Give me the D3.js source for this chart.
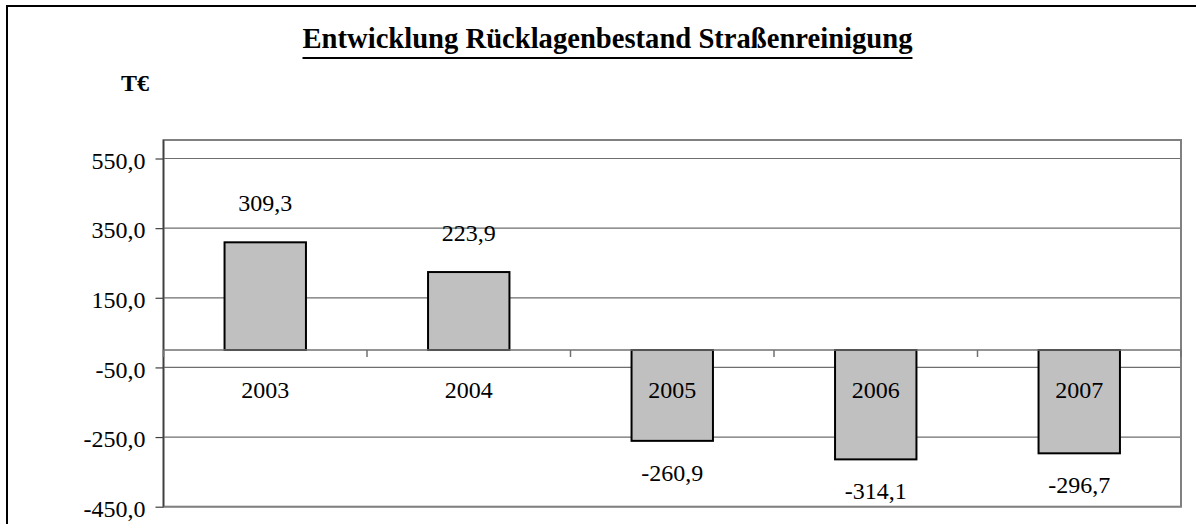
<!DOCTYPE html>
<html>
<head>
<meta charset="utf-8">
<script src="https://cdn.jsdelivr.net/npm/d3@7"></script>
<style>
  body { margin: 0; background: #fff; }
</style>
</head>
<body>
<div id="chart"></div>
<script>
// data
var years = ["2003", "2004", "2005", "2006", "2007"];
var values = [309.3, 223.9, -260.9, -314.1, -296.7];
var yTicks = [550, 350, 150, -50, -250, -450];

var chartTitle = "Entwicklung Rücklagenbestand Straßenreinigung";
var unitLabel = "T€";

const width = 1196;
const height = 524;
const serif = "'Liberation Serif', 'Times New Roman', serif";

var fmt = function (v) { return d3.format(".1f")(v).replace(".", ",").replace("−", "-"); };

var svg = d3.select("#chart").append("svg")
	.attr("width", width)
	.attr("height", height)
	.style("font-family", serif);

// outer frame (runs off the picture on right and bottom)
svg.append("rect")
	.attr("x", 7).attr("y", 6)
	.attr("width", 1200).attr("height", 530)
	.attr("fill", "none")
	.attr("stroke", "#000")
	.attr("stroke-width", 2);

// plot area
var plot = { left: 163.5, right: 1181, top: 140, bottom: 506.7 };

var x = d3.scaleBand()
	.domain(years)
	.range([plot.left, plot.right])
	.padding(0);

var y = d3.scaleLinear()
	.domain([-450, 550])
	.range([506.7, 158.5]);

// gridlines
svg.append("g").selectAll("line")
	.data(yTicks)
	.join("line")
	.attr("x1", plot.left).attr("x2", plot.right)
	.attr("y1", d => y(d)).attr("y2", d => y(d))
	.attr("stroke", "#6e6e6e")
	.attr("stroke-width", 1.2);

// plot border
svg.append("rect")
	.attr("x", plot.left).attr("y", plot.top)
	.attr("width", plot.right - plot.left)
	.attr("height", plot.bottom - plot.top)
	.attr("fill", "none")
	.attr("stroke", "#808080")
	.attr("stroke-width", 2);

// y axis
var yAxis = d3.axisLeft(y)
	.tickValues(yTicks)
	.tickSize(8)
	.tickPadding(10)
	.tickFormat(fmt);

var yg = svg.append("g")
	.attr("transform", "translate(" + plot.left + ",0)")
	.call(yAxis);
yg.attr("font-family", null).attr("font-size", null);
yg.select(".domain")
	.attr("d", "M0," + plot.top + "V" + plot.bottom)
	.attr("stroke", "#404040")
	.attr("stroke-width", 1.5);
yg.selectAll(".tick line").attr("stroke", "#404040").attr("stroke-width", 1.2);
yg.selectAll(".tick text")
	.style("font-family", serif)
	.style("font-size", "24px")
	.attr("dy", "0.4em")
	.attr("fill", "#000");

// bars
var barW = x.bandwidth() * 0.4;
svg.append("g").selectAll("rect")
	.data(values)
	.join("rect")
	.attr("x", (d, i) => x(years[i]) + (x.bandwidth() - barW) / 2)
	.attr("y", d => y(Math.max(0, d)))
	.attr("width", barW)
	.attr("height", d => Math.abs(y(d) - y(0)))
	.attr("fill", "#c0c0c0")
	.attr("stroke", "#000")
	.attr("stroke-width", 2);

// category axis at zero
var y0 = y(0);
svg.append("line")
	.attr("x1", plot.left).attr("x2", plot.right)
	.attr("y1", y0).attr("y2", y0)
	.attr("stroke", "#707070")
	.attr("stroke-width", 1.5);

var bounds = years.map(d => x(d)).concat([plot.right]);
svg.append("g").selectAll("line")
	.data(bounds)
	.join("line")
	.attr("x1", d => d).attr("x2", d => d)
	.attr("y1", y0).attr("y2", y0 + 7)
	.attr("stroke", "#707070")
	.attr("stroke-width", 1.5);

svg.append("g").selectAll("text")
	.data(years)
	.join("text")
	.attr("x", d => x(d) + x.bandwidth() / 2)
	.attr("y", y0 + 48)
	.attr("text-anchor", "middle")
	.style("font-family", serif)
	.style("font-size", "24px")
	.text(d => d);

// value labels
svg.append("g").selectAll("text")
	.data(values)
	.join("text")
	.attr("x", (d, i) => x(years[i]) + x.bandwidth() / 2)
	.attr("y", d => d >= 0 ? y(d) - 31.5 : y(d) + 40)
	.attr("text-anchor", "middle")
	.style("font-family", serif)
	.style("font-size", "24px")
	.text(d => fmt(d));

// unit label
svg.append("text")
	.attr("x", 121)
	.attr("y", 91)
	.style("font-family", serif)
	.style("font-size", "24px")
	.style("font-weight", "bold")
	.text(unitLabel);

// title, fitted to the width seen in the reference
var title = svg.append("text")
	.style("font-family", serif)
	.style("font-weight", "bold")
	.style("font-size", "24px")
	.text(chartTitle);
var tw = title.node().getComputedTextLength();
var fs = 24 * 610 / tw;
title.style("font-size", fs + "px");
tw = title.node().getComputedTextLength();
var tx = 607.5 - tw / 2;
title.attr("x", tx).attr("y", 47.5);
svg.append("line")
	.attr("x1", tx).attr("x2", tx + tw)
	.attr("y1", 58).attr("y2", 58)
	.attr("stroke", "#000")
	.attr("stroke-width", 2);
</script>
</body>
</html>
